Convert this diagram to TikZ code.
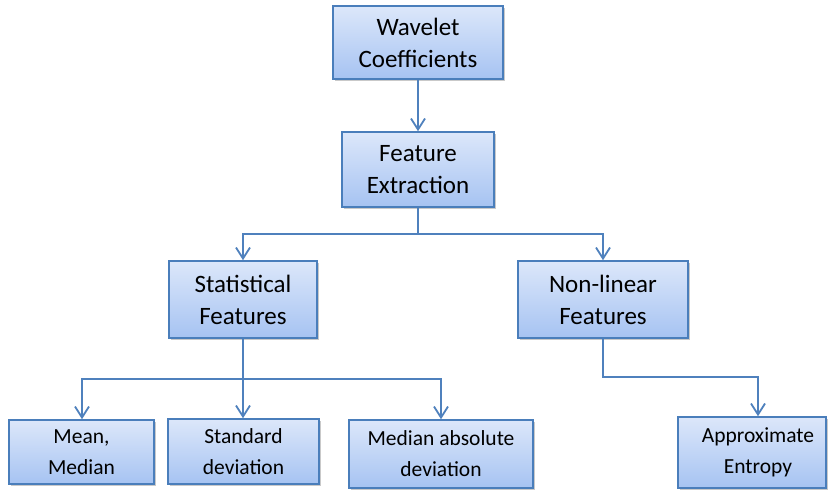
\documentclass[tikz,border=0pt]{standalone}
\usepackage{fontspec}
\setmainfont{Carlito}
\usetikzlibrary{arrows.meta,shadows}
\definecolor{edgeblue}{RGB}{74,126,187}
\definecolor{linkblue}{RGB}{79,129,189}
\definecolor{filltop}{RGB}{220,231,250}
\definecolor{fillbot}{RGB}{166,195,242}
\tikzset{
  boxbase/.style={draw=edgeblue, line width=1.6pt, rectangle, inner sep=0pt,
    top color=filltop, bottom color=fillbot, align=center, text=black,
    drop shadow={shadow xshift=1.5pt, shadow yshift=-2pt, opacity=0.35, fill=black!60}},
  bigbox/.style={boxbase, font=\fontsize{25}{32}\selectfont},
  smallbox/.style={boxbase, font=\fontsize{21.5}{31}\selectfont},
  link/.style={draw=linkblue, line width=1.8pt, -{Straight Barb[length=11pt,width=14pt,line width=1.8pt]}}
}
\begin{document}
\begin{tikzpicture}[x=1pt,y={(0pt,-1pt)}]
\useasboundingbox[fill=white] (0,0) rectangle (829,492);
\node[bigbox, minimum width=170pt, minimum height=73pt] (w) at (418,42.5) {Wavelet\\Coefficients};
\node[bigbox, minimum width=152pt, minimum height=75pt] (f) at (418,169.5) {Feature\\Extraction};
\node[bigbox, minimum width=148pt, minimum height=77pt] (s) at (243,299.5) {Statistical\\Features};
\node[bigbox, minimum width=170pt, minimum height=77pt] (n) at (603,299.5) {Non-linear\\Features};
\node[smallbox, minimum width=145pt, minimum height=64pt] (m1) at (81.5,452) {Mean,\\Median};
\node[smallbox, minimum width=151pt, minimum height=65pt] (m2) at (243.5,451.5) {Standard\\deviation};
\node[smallbox, minimum width=184pt, minimum height=68pt] (m3) at (441,454) {Median absolute\\deviation};
\node[smallbox, minimum width=148pt, minimum height=71pt] (a) at (752,452.5) {\hspace*{12pt}Approximate\\\hspace*{12pt}Entropy};
\coordinate (fs) at (418,234);
\coordinate (ss) at (243,379);
\coordinate (ns) at (603,377);
\draw[link] (w.south) -- (f.north);
\draw[draw=linkblue, line width=1.8pt] (f.south) -- (fs);
\draw[link] (fs) -| (s.north);
\draw[link] (fs) -| (n.north);
\draw[draw=linkblue, line width=1.8pt] (s.south) -- (ss);
\draw[link] (ss) -| (m1.north -| 82,0);
\draw[link] (ss) -- (m2.north -| 243,0);
\draw[link] (ss) -| (m3.north);
\draw[link] (n.south) -- (ns) -| (a.north -| 758,0);
\end{tikzpicture}
\end{document}
